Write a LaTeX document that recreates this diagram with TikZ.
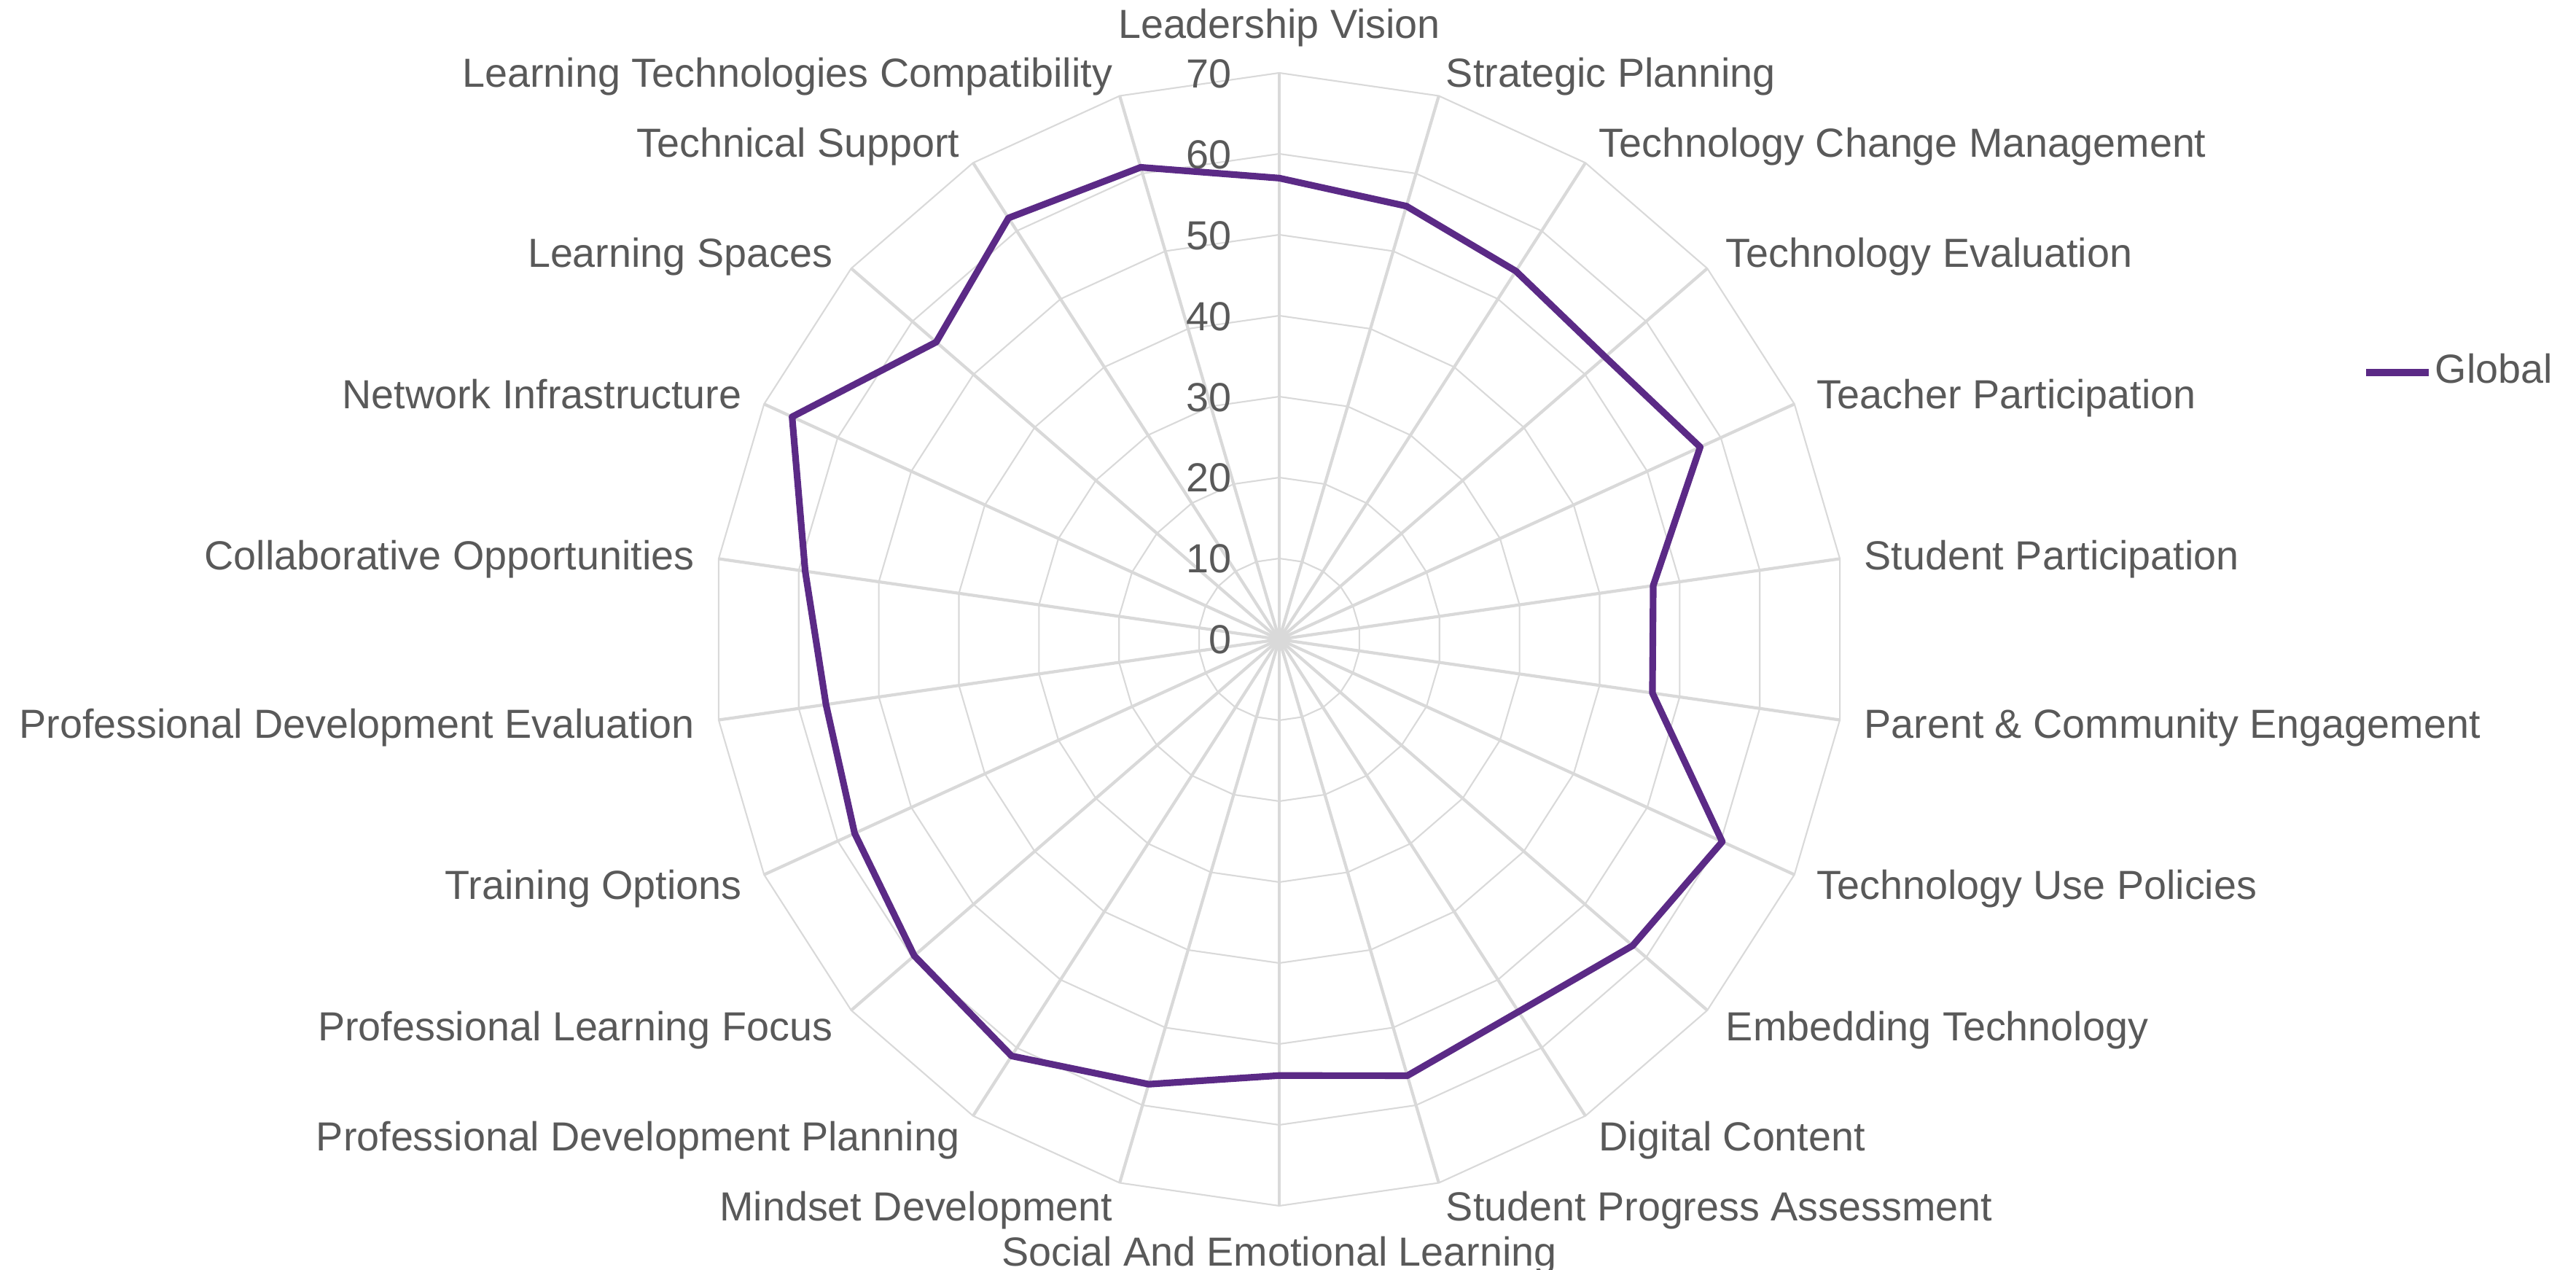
\documentclass[tikz,border=0pt]{standalone}
\usepackage{fontspec}
\setmainfont{Liberation Sans}
\usepackage{xcolor}
\definecolor{gridgray}{HTML}{D9D9D9}
\definecolor{labelgray}{HTML}{595959}
\definecolor{globalpurple}{HTML}{5B2A86}

\begin{document}
\begin{tikzpicture}[
    spoke/.style={draw=gridgray, line width=1.2pt},
    ring/.style={draw=gridgray, line width=0.6pt},
    series/.style={draw=globalpurple, line width=2.6pt, line join=round},
    catlabel/.style={text=labelgray, inner sep=0pt, font=\fontsize{15.85}{19}\selectfont}
  ]
  \useasboundingbox (-17.55,-8.65) rectangle (17.79,8.77);

  % rings
  \foreach \r in {1,...,7} {
      \draw[ring] (90:\r*1.11) \foreach \i in {1,...,21} { -- ({90-\i*360/22}:\r*1.11) } -- cycle;
    }

  % spokes
  \coordinate (o) at (0,0);
  \foreach \i in {0,...,21} {
      \coordinate (s\i) at ({90-\i*360/22}:7.77);
      \draw[spoke] (o) -- (s\i);
    }

  % scale
  \foreach \v in {0,10,...,70}
  \node[catlabel, anchor=base east] (t\v) at (-0.65,\v*0.111-0.2) {\v};

  % global series
  \foreach \i/\val in {0/57, 1/55.8, 2/54.1, 3/53.3, 4/57.2, 5/46.7, 6/46.6, 7/60.2,
      8/57.8, 9/54.7, 10/56.2, 11/53.9, 12/57.3, 13/61.2, 14/59.7, 15/57.7,
      16/56.6, 17/59.2, 18/66.2, 19/56.1, 20/61.9, 21/60.8}
  \coordinate (v\i) at ({90-\i*360/22}:\val*0.111);
  \draw[series] (v0) \foreach \i in {1,...,21} { -- (v\i) } -- cycle;

  % category labels
  \node[catlabel, anchor=base] (c0) at (0,8.24) {Leadership Vision};
  \foreach \i/\name in {1/Strategic Planning, 2/Technology Change Management,
      3/Technology Evaluation, 4/Teacher Participation, 5/Student Participation,
      6/Parent \& Community Engagement, 7/Technology Use Policies,
      8/Embedding Technology, 9/Digital Content, 10/Student Progress Assessment}
  \node[catlabel, anchor=base west, yshift=-0.2cm] (c\i) at ({90-\i*360/22}:8.10) {\name};
  \node[catlabel, anchor=base] (c11) at (0,-8.60) {Social And Emotional Learning};
  \foreach \i/\name in {12/Mindset Development, 13/Professional Development Planning,
      14/Professional Learning Focus, 15/Training Options,
      16/Professional Development Evaluation, 17/Collaborative Opportunities,
      18/Network Infrastructure, 19/Learning Spaces, 20/Technical Support,
      21/Learning Technologies Compatibility}
  \node[catlabel, anchor=base east, yshift=-0.2cm] (c\i) at ({90-\i*360/22}:8.10) {\name};

  % legend
  \coordinate (leg1) at (14.91,3.66);
  \coordinate (leg2) at (15.77,3.66);
  \draw[series, line cap=butt] (leg1) -- (leg2);
  \node[catlabel, anchor=base west] (legtext) at (15.85,3.515) {Global};
\end{tikzpicture}
\end{document}
